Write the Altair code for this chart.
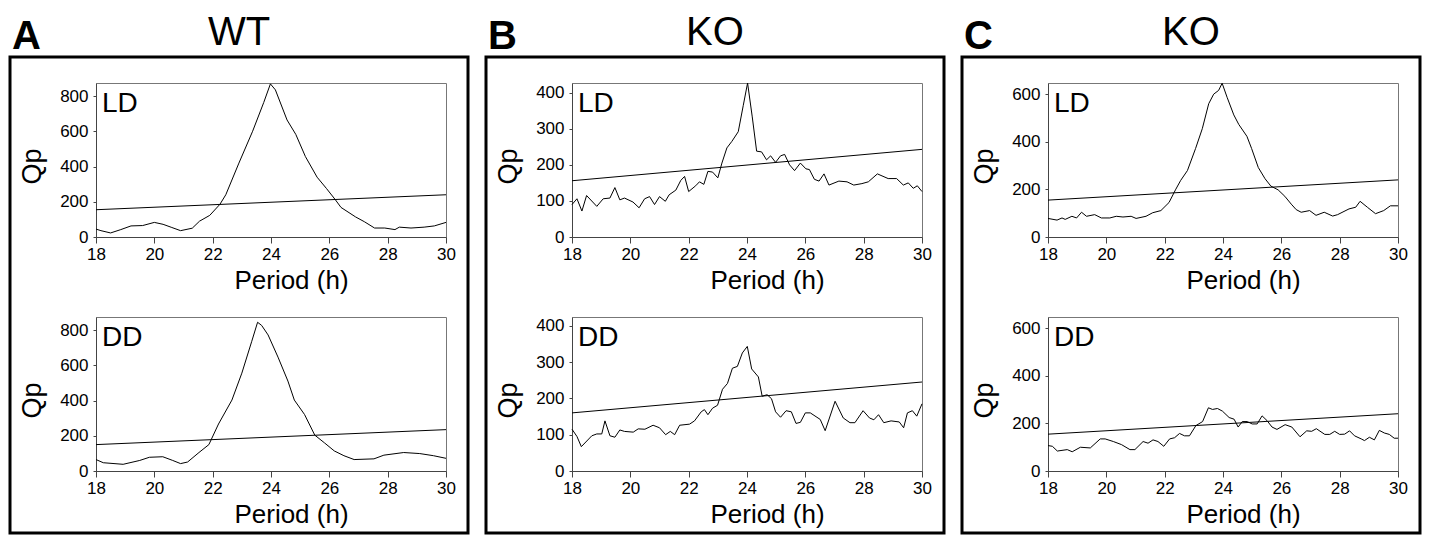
import altair as alt
import pandas as pd

# ---------------- data ----------------
X_TICKS = [18, 20, 22, 24, 26, 28, 30]
SIG_PERIOD = [18, 30]

# Panel A (WT) - LD
A_LD_period = [18.0, 18.17, 18.5, 18.85, 19.2, 19.6, 20.0, 20.3, 20.6, 20.9, 21.3, 21.55, 21.9,
               22.25, 22.45, 22.9, 23.37, 23.75, 23.98, 24.15, 24.55, 24.85, 25.18, 25.58, 25.9,
               26.2, 26.4, 26.9, 27.2, 27.55, 27.9, 28.25, 28.4, 28.8, 29.25, 29.6, 30.0]
A_LD_qp = [45, 36, 23, 42, 63, 65, 83, 72, 54, 36, 50, 90, 123,
           186, 240, 420, 601, 764, 870, 836, 665, 583, 457, 340, 276,
           213, 168, 114, 87, 51, 51, 42, 56, 51, 56, 63, 83]
A_LD_sig = [155, 240]

# Panel A (WT) - DD
A_DD_period = [18.0, 18.25, 18.93, 19.5, 19.83, 20.29, 20.63, 20.9, 21.14, 21.53, 21.87, 22.2,
               22.66, 23.0, 23.34, 23.54, 23.68, 23.9, 24.24, 24.58, 24.8, 25.15, 25.5, 25.84,
               26.17, 26.5, 26.85, 27.53, 27.87, 28.55, 29.1, 29.57, 30.0]
A_DD_qp = [65, 47, 38, 60, 78, 81, 60, 42, 51, 105, 150, 267,
           403, 556, 737, 845, 827, 773, 647, 511, 403, 321, 204, 159,
           114, 87, 65, 69, 90, 105, 99, 87, 72]
A_DD_sig = [150, 235]

# Panel B (KO) - LD
B_LD_period = [18.0, 18.17, 18.34, 18.5, 18.85, 19.07, 19.3, 19.47, 19.64, 19.8, 20.09, 20.3,
               20.49, 20.66, 20.83, 21.0, 21.2, 21.33, 21.56, 21.73, 21.86, 22.0, 22.24, 22.37,
               22.52, 22.66, 22.82, 23.0, 23.14, 23.31, 23.48, 23.7, 23.87, 24.02, 24.18, 24.33,
               24.5, 24.67, 24.81, 24.98, 25.15, 25.29, 25.46, 25.63, 25.83, 26.02, 26.14, 26.31,
               26.47, 26.64, 26.81, 27.15, 27.43, 27.66, 27.94, 28.16, 28.47, 28.84, 29.13, 29.36,
               29.53, 29.7, 29.84, 30.0]
B_LD_qp = [90, 106, 72, 115, 85, 106, 108, 137, 103, 108, 97, 81,
           106, 112, 90, 112, 99, 117, 130, 157, 168, 126, 142, 153,
           146, 182, 180, 164, 205, 247, 265, 292, 364, 427, 333, 238,
           236, 214, 225, 207, 225, 229, 200, 184, 205, 189, 187, 160,
           155, 175, 144, 155, 153, 144, 148, 153, 175, 162, 162, 144,
           150, 135, 142, 126]
B_LD_sig = [156, 243]

# Panel B (KO) - DD
B_DD_period = [18.0, 18.17, 18.32, 18.68, 18.85, 19.02, 19.13, 19.3, 19.47, 19.64, 19.8, 20.1,
               20.27, 20.5, 20.78, 21.0, 21.21, 21.37, 21.52, 21.69, 22.03, 22.2, 22.43, 22.54,
               22.66, 22.82, 22.99, 23.16, 23.33, 23.5, 23.67, 23.84, 24.01, 24.16, 24.39, 24.52,
               24.69, 24.84, 24.98, 25.15, 25.34, 25.52, 25.68, 25.83, 26.0, 26.17, 26.51, 26.68,
               27.02, 27.3, 27.53, 27.7, 27.98, 28.2, 28.35, 28.51, 28.69, 28.94, 29.22, 29.37,
               29.5, 29.67, 29.82, 30.0]
B_DD_qp = [115, 95, 67, 97, 102, 102, 138, 97, 93, 113, 109, 107,
           116, 115, 126, 119, 100, 109, 100, 126, 129, 138, 163, 169,
           155, 173, 181, 225, 241, 283, 288, 325, 343, 281, 259, 206,
           210, 199, 163, 148, 166, 163, 131, 134, 160, 160, 142, 111,
           192, 146, 133, 133, 166, 146, 141, 155, 133, 138, 135, 119,
           160, 166, 151, 185]
B_DD_sig = [160, 245]

# Panel C (KO) - LD
C_LD_period = [18.0, 18.31, 18.48, 18.59, 18.82, 18.98, 19.15, 19.32, 19.6, 19.83, 20.12, 20.34,
               20.57, 20.85, 21.02, 21.36, 21.59, 21.87, 22.15, 22.37, 22.55, 22.78, 23.06, 23.29,
               23.51, 23.68, 23.85, 23.97, 24.14, 24.37, 24.54, 24.82, 24.98, 25.21, 25.44, 25.64,
               25.89, 26.12, 26.34, 26.51, 26.68, 26.97, 27.19, 27.47, 27.76, 27.93, 28.32, 28.55,
               28.7, 28.95, 29.23, 29.51, 29.74, 30.0]
C_LD_qp = [78, 71, 80, 74, 87, 80, 104, 87, 94, 80, 80, 87,
           84, 87, 78, 87, 102, 111, 145, 198, 238, 279, 372, 455,
           560, 600, 616, 646, 587, 513, 473, 423, 372, 292, 245, 214,
           198, 171, 138, 115, 104, 111, 91, 104, 88, 94, 118, 125,
           150, 125, 98, 111, 131, 131]
C_LD_sig = [155, 240]

# Panel C (KO) - DD
C_DD_period = [18.0, 18.15, 18.32, 18.66, 18.83, 19.11, 19.45, 19.79, 19.96, 20.24, 20.52, 20.81,
               20.98, 21.26, 21.43, 21.6, 21.77, 21.97, 22.17, 22.34, 22.51, 22.68, 22.85, 23.07,
               23.3, 23.5, 23.64, 23.81, 23.98, 24.21, 24.38, 24.52, 24.66, 24.83, 25.0, 25.17,
               25.34, 25.51, 25.68, 25.85, 26.13, 26.36, 26.64, 26.87, 27.04, 27.2, 27.49, 27.66,
               27.83, 28.0, 28.17, 28.34, 28.51, 28.74, 28.85, 29.02, 29.19, 29.36, 29.53, 29.7,
               29.87, 30.0]
C_DD_qp = [107, 104, 84, 90, 81, 100, 97, 135, 135, 124, 111, 90,
           90, 124, 117, 131, 124, 104, 135, 140, 158, 148, 148, 191,
           208, 266, 259, 263, 252, 225, 218, 185, 208, 208, 198, 198,
           232, 212, 185, 175, 195, 185, 144, 169, 167, 178, 154, 154,
           167, 154, 155, 169, 148, 135, 128, 142, 131, 171, 160, 154,
           138, 138]
C_DD_sig = [155, 241]

# ---------------- layout / style ----------------
FONT = "Liberation Sans"
W, H = 350, 154
VSPACE = 80
BOX_L, BOX_R, BOX_T, BOX_B = 86, 22, 26, 62
GAP = 17
STROKE = 3


def subplot(period, qp, sig, ymax, yticks, label, letter=None, title=None):
    df = pd.DataFrame({"period": period, "qp": qp})
    sdf = pd.DataFrame({"period": SIG_PERIOD, "qp": sig})
    x = alt.X("period:Q",
              scale=alt.Scale(domain=[18, 30], nice=False, zero=False),
              axis=alt.Axis(values=X_TICKS, title="Period (h)", format="d",
                            titleFontSize=26, titleX=W / 2 + 20, titlePadding=5,
                            labelFlush=False, labelOverlap=False,
                            tickSize=6, labelPadding=3))
    y = alt.Y("qp:Q",
              scale=alt.Scale(domain=[0, ymax], nice=False),
              axis=alt.Axis(values=yticks, title="Qp", format="d",
                            titleFontSize=27, titleY=H / 2 + 6, titlePadding=13,
                            labelOverlap=False, tickSize=3, labelPadding=5))
    line = alt.Chart(df).mark_line(color="black", strokeWidth=1).encode(x=x, y=y)
    sline = alt.Chart(sdf).mark_line(color="black", strokeWidth=1).encode(x=x, y=y)
    lab = alt.Chart(pd.DataFrame({"t": [label]})).mark_text(
        font=FONT, fontSize=28, align="left", baseline="alphabetic", color="black"
    ).encode(text="t:N", x=alt.value(6), y=alt.value(29))
    layers = [line, sline, lab]
    if letter is not None:
        box_bottom = H + VSPACE + H + BOX_B
        box = alt.Chart(pd.DataFrame({"b": [1]})).mark_rect(
            filled=False, stroke="black", strokeWidth=STROKE
        ).encode(x=alt.value(-BOX_L), x2=alt.value(W + BOX_R),
                 y=alt.value(-BOX_T), y2=alt.value(box_bottom))
        let = alt.Chart(pd.DataFrame({"t": [letter]})).mark_text(
            font=FONT, fontSize=40, fontWeight="bold", align="left",
            baseline="alphabetic", color="black"
        ).encode(text="t:N", x=alt.value(-BOX_L + 2), y=alt.value(-BOX_T - 8))
        tit = alt.Chart(pd.DataFrame({"t": [title]})).mark_text(
            font=FONT, fontSize=40, align="center", baseline="alphabetic", color="black"
        ).encode(text="t:N", x=alt.value((W + BOX_R - BOX_L) / 2),
                 y=alt.value(-BOX_T - 12))
        layers += [box, let, tit]
    return alt.layer(*layers).properties(width=W, height=H)


def panel(ld, dd):
    return alt.vconcat(ld, dd, spacing=VSPACE, bounds="flush")


pA = panel(
    subplot(A_LD_period, A_LD_qp, A_LD_sig, 875, [0, 200, 400, 600, 800], "LD", "A", "WT"),
    subplot(A_DD_period, A_DD_qp, A_DD_sig, 875, [0, 200, 400, 600, 800], "DD"),
)
pB = panel(
    subplot(B_LD_period, B_LD_qp, B_LD_sig, 427, [0, 100, 200, 300, 400], "LD", "B", "KO"),
    subplot(B_DD_period, B_DD_qp, B_DD_sig, 424, [0, 100, 200, 300, 400], "DD"),
)
pC = panel(
    subplot(C_LD_period, C_LD_qp, C_LD_sig, 647, [0, 200, 400, 600], "LD", "C", "KO"),
    subplot(C_DD_period, C_DD_qp, C_DD_sig, 648, [0, 200, 400, 600], "DD"),
)

chart = alt.hconcat(
    pA, pB, pC, spacing=GAP - STROKE, bounds="full"
).properties(
    padding={"left": 0, "top": 4, "right": 0, "bottom": 0}, background="white"
).configure_view(
    stroke="#777777", strokeWidth=1
).configure_axis(
    grid=False, domainColor="#444444", tickColor="#444444", domainWidth=1,
    labelFont=FONT, titleFont=FONT, labelFontSize=17, labelColor="black",
    titleColor="black", titleFontWeight="normal"
)

chart.save("out.html", embed_options={"renderer": "svg", "actions": False})
